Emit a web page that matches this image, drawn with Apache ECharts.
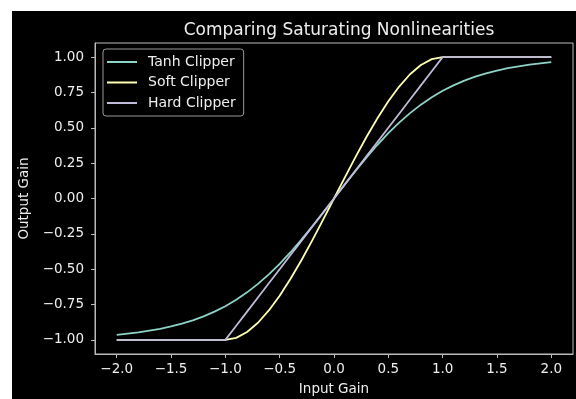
<!DOCTYPE html>
<html lang="en">

<head>
    <meta charset="UTF-8">
    <title>Comparing Saturating Nonlinearities</title>
    <style>
        body {
            margin: 0;
            background: #ffffff;
        }

        .wrap {
            position: relative;
            width: 576px;
            height: 399px;
        }

        .box {
            position: absolute;
            left: 12px;
            top: 11px;
            width: 564px;
            height: 388px;
            background: #000000;
        }
    </style>
</head>

<body>
    <div class="wrap">
        <div class="box"></div>
    </div>

    <script src="https://cdn.jsdelivr.net/npm/echarts@6/dist/echarts.min.js"></script>
    <script>
        // input gain samples (step 0.1)
        let xVals = [-2.0, -1.9, -1.8, -1.7, -1.6, -1.5, -1.4, -1.3, -1.2, -1.1,
            -1.0, -0.9, -0.8, -0.7, -0.6, -0.5, -0.4, -0.3, -0.2, -0.1,
            0.0, 0.1, 0.2, 0.3, 0.4, 0.5, 0.6, 0.7, 0.8, 0.9,
            1.0, 1.1, 1.2, 1.3, 1.4, 1.5, 1.6, 1.7, 1.8, 1.9, 2.0]
        let tanhVals = [-0.964, -0.956, -0.947, -0.935, -0.922, -0.905, -0.885, -0.862, -0.834, -0.800,
            -0.762, -0.716, -0.664, -0.604, -0.537, -0.462, -0.380, -0.291, -0.197, -0.100,
            0.000, 0.100, 0.197, 0.291, 0.380, 0.462, 0.537, 0.604, 0.664, 0.716,
            0.762, 0.800, 0.834, 0.862, 0.885, 0.905, 0.922, 0.935, 0.947, 0.956, 0.964]
        let softVals = [-1, -1, -1, -1, -1, -1, -1, -1, -1, -1,
            -1.000, -0.986, -0.944, -0.879, -0.792, -0.688, -0.568, -0.437, -0.296, -0.150,
            0.000, 0.150, 0.296, 0.437, 0.568, 0.688, 0.792, 0.879, 0.944, 0.986,
            1.000, 1, 1, 1, 1, 1, 1, 1, 1, 1, 1]
        let hardVals = [-1, -1, -1, -1, -1, -1, -1, -1, -1, -1,
            -1.0, -0.9, -0.8, -0.7, -0.6, -0.5, -0.4, -0.3, -0.2, -0.1,
            0.0, 0.1, 0.2, 0.3, 0.4, 0.5, 0.6, 0.7, 0.8, 0.9,
            1.0, 1, 1, 1, 1, 1, 1, 1, 1, 1, 1]
        let xTicks = [-2.0, -1.5, -1.0, -0.5, 0.0, 0.5, 1.0, 1.5, 2.0]
        let yTicks = [-1.0, -0.75, -0.5, -0.25, 0.0, 0.25, 0.5, 0.75, 1.0]
        let names = ["Tanh Clipper", "Soft Clipper", "Hard Clipper"]
        let colors = ["#8dd3c7", "#feffb3", "#bfbbd9"]

        function pairs(ys) {
            return xVals.map(function (x, i) {
                return [x, ys[i]]
            })
        }

        function fmt(d) {
            return function (v) {
                let s = Math.abs(v).toFixed(d)
                return v < -1e-9 ? "\u2212" + s : s
            }
        }

        let font = "DejaVu Sans"
        let textColor = "#eeeeee"
        let spine = "#bbbbbb"

        let myChart = echarts.init(document.querySelector(".box"))
        let option = {
            backgroundColor: "#000000",
            animation: false,
            textStyle: {
                fontFamily: font
            },
            title: {
                text: "Comparing Saturating Nonlinearities",
                left: 322,
                top: 6,
                textAlign: "center",
                textStyle: {
                    color: textColor,
                    fontSize: 17,
                    fontWeight: "normal",
                    fontFamily: font
                }
            },
            legend: {
                left: 91,
                top: 38,
                orient: "vertical",
                data: names,
                icon: "rect",
                itemWidth: 30,
                itemHeight: 2,
                itemGap: 6.5,
                padding: [6, 8, 6, 4],
                borderColor: "#999999",
                borderWidth: 1,
                borderRadius: 3,
                backgroundColor: "#000000",
                textStyle: {
                    color: textColor,
                    fontSize: 14,
                    lineHeight: 14,
                    padding: [0, 0, 0, 6],
                    fontFamily: font
                }
            },
            grid: {
                left: 83,
                top: 32,
                right: 3,
                bottom: 45,
                outerBoundsMode: "none",
                show: true,
                borderColor: spine,
                borderWidth: 1,
                backgroundColor: "#000000"
            },
            xAxis: {
                type: "value",
                min: -2.2,
                max: 2.2,
                name: "Input Gain",
                nameLocation: "middle",
                nameGap: 28,
                nameTextStyle: {
                    color: textColor,
                    fontSize: 13.5,
                    fontFamily: font
                },
                axisLine: {
                    onZero: false,
                    lineStyle: {
                        color: spine
                    }
                },
                axisTick: {
                    customValues: xTicks,
                    length: 4,
                    lineStyle: {
                        color: spine
                    }
                },
                axisLabel: {
                    customValues: xTicks,
                    formatter: fmt(1),
                    margin: 8,
                    color: textColor,
                    fontSize: 13.5,
                    fontFamily: font
                },
                splitLine: {
                    show: false
                }
            },
            yAxis: {
                type: "value",
                min: -1.1,
                max: 1.1,
                name: "Output Gain",
                nameLocation: "middle",
                nameGap: 57,
                nameTextStyle: {
                    color: textColor,
                    fontSize: 13.5,
                    fontFamily: font
                },
                axisLine: {
                    show: true,
                    onZero: false,
                    lineStyle: {
                        color: spine
                    }
                },
                axisTick: {
                    show: true,
                    customValues: yTicks,
                    length: 4,
                    lineStyle: {
                        color: spine
                    }
                },
                axisLabel: {
                    customValues: yTicks,
                    formatter: fmt(2),
                    margin: 11,
                    color: textColor,
                    fontSize: 13.5,
                    fontFamily: font
                },
                splitLine: {
                    show: false
                }
            },
            series: [tanhVals, softVals, hardVals].map(function (ys, i) {
                return {
                    name: names[i],
                    type: "line",
                    data: pairs(ys),
                    showSymbol: false,
                    symbol: "none",
                    itemStyle: { color: colors[i] },
                    lineStyle: { color: colors[i], width: 1.8, join: "round" }
                }
            })
        }
        myChart.setOption(option)
    </script>
</body>

</html>
